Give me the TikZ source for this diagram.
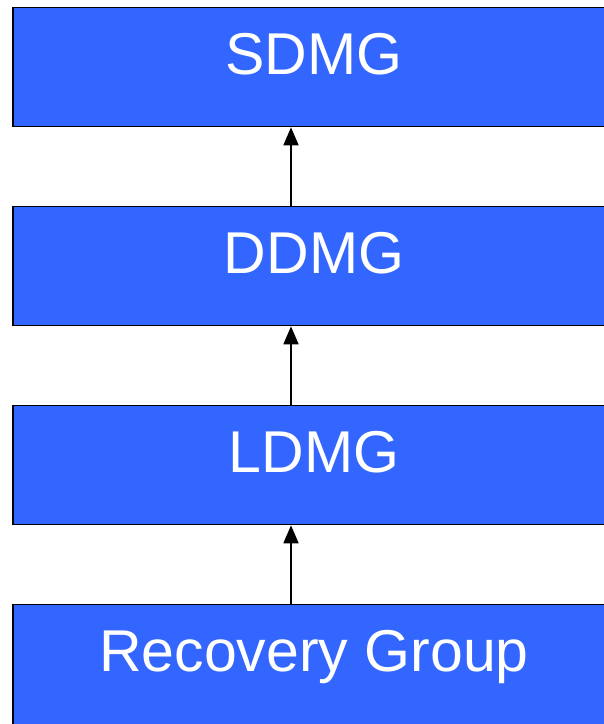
\documentclass[tikz,border=0pt]{standalone}
\usepackage{fontspec}
\setmainfont{Liberation Sans}
\usetikzlibrary{positioning,arrows.meta}
\definecolor{boxblue}{RGB}{51,102,255}

\begin{document}
\begin{tikzpicture}[x=1pt,y=-1pt,
	layer/.style={draw=black, line width=1.6pt, fill=boxblue, text=white,
		minimum width=602pt, minimum height=119pt, inner sep=0pt,
		text height=42pt, text depth=28pt,
		font=\fontsize{59}{66}\selectfont},
	up/.style={-{Triangle[width=15pt,length=18pt]}, line width=1.6pt}]
	\useasboundingbox (0,0) rectangle (604,724);

	\node[layer] (sdmg) at (314,67) {SDMG};
	\node[layer, below=78.4pt of sdmg] (ddmg) {DDMG};
	\node[layer, below=78.4pt of ddmg] (ldmg) {LDMG};
	% runs off the bottom edge
	\node[layer, below=78.4pt of ldmg, minimum height=126pt, text depth=35pt] (rg) {Recovery Group};

	\draw[up] ([xshift=-23pt]ddmg.north) -- ([xshift=-23pt]sdmg.south);
	\draw[up] ([xshift=-23pt]ldmg.north) -- ([xshift=-23pt]ddmg.south);
	\draw[up] ([xshift=-23pt]rg.north) -- ([xshift=-23pt]ldmg.south);
\end{tikzpicture}
\end{document}
